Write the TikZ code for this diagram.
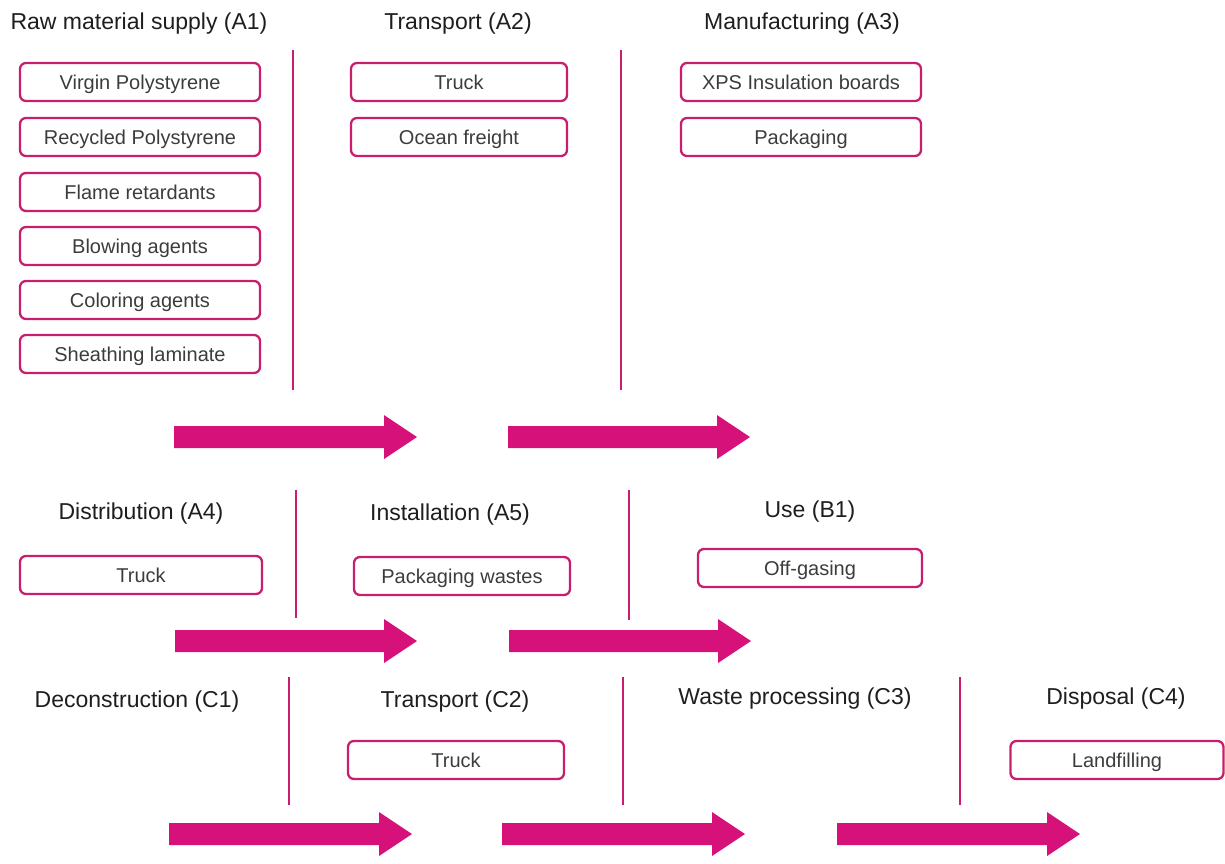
\documentclass[tikz,border=0pt]{standalone}
\usepackage{fontspec}
\setmainfont{Liberation Sans}
\definecolor{mag}{RGB}{214,18,122}
\definecolor{boxedge}{RGB}{200,30,110}
\definecolor{hdr}{RGB}{30,30,30}
\definecolor{btxt}{RGB}{60,60,60}
\begin{document}
\begin{tikzpicture}[x=1pt,y=-1pt,
  hdrnode/.style={text=hdr,font=\fontsize{23}{27}\selectfont,inner sep=0pt,anchor=center,
     text height=16.5pt,text depth=0pt},
  itembox/.style={draw=boxedge,line width=2.3pt,rounded corners=6pt,minimum height=38pt,
     text=btxt,font=\fontsize{20}{24}\selectfont,inner sep=0pt,anchor=center,
     text height=14.3pt,text depth=0pt},
  sepline/.style={draw=boxedge,line width=2pt}]
\useasboundingbox (0,0) rectangle (1225,863);
\newcommand\fatarr[3]{% x1 x2 y
  \fill[mag] (#1,#3-11) -- (#2-33,#3-11) -- (#2-33,#3-22) -- (#2,#3) -- (#2-33,#3+22) -- (#2-33,#3+11) -- (#1,#3+11) -- cycle;}
% Row 1 headers
\node[hdrnode] (hA1) at (139,21) {Raw material supply (A1)};
\node[hdrnode] (hA2) at (458,21) {Transport (A2)};
\node[hdrnode] (hA3) at (802,21) {Manufacturing (A3)};
% separators row 1
\coordinate (s1t) at (293,50); \coordinate (s1b) at (293,390);
\coordinate (s2t) at (621,50); \coordinate (s2b) at (621,390);
\draw[sepline] (s1t) -- (s1b);
\draw[sepline] (s2t) -- (s2b);
% A1 boxes
\node[itembox,minimum width=240pt] (b11) at (140,82) {Virgin Polystyrene};
\node[itembox,minimum width=240pt] (b12) at (140,137) {Recycled Polystyrene};
\node[itembox,minimum width=240pt] (b13) at (140,192) {Flame retardants};
\node[itembox,minimum width=240pt] (b14) at (140,246) {Blowing agents};
\node[itembox,minimum width=240pt] (b15) at (140,300) {Coloring agents};
\node[itembox,minimum width=240pt] (b16) at (140,354) {Sheathing laminate};
% A2 boxes
\node[itembox,minimum width=216pt] (b21) at (459,82) {Truck};
\node[itembox,minimum width=216pt] (b22) at (459,137) {Ocean freight};
% A3 boxes
\node[itembox,minimum width=240pt] (b31) at (801,82) {XPS Insulation boards};
\node[itembox,minimum width=240pt] (b32) at (801,137) {Packaging};
% Row 1 arrows
\fatarr{174}{417}{437}
\fatarr{508}{750}{437}
% Row 2
\node[hdrnode] (hA4) at (141,511) {Distribution (A4)};
\node[hdrnode] (hA5) at (450,512) {Installation (A5)};
\node[hdrnode] (hB1) at (810,509) {Use (B1)};
\coordinate (s3t) at (296,490); \coordinate (s3b) at (296,618);
\coordinate (s4t) at (629,490); \coordinate (s4b) at (629,620);
\draw[sepline] (s3t) -- (s3b);
\draw[sepline] (s4t) -- (s4b);
\node[itembox,minimum width=242pt] (b41) at (141,575) {Truck};
\node[itembox,minimum width=216pt] (b51) at (462,576) {Packaging wastes};
\node[itembox,minimum width=224pt] (b61) at (810,568) {Off-gasing};
\fatarr{175}{417}{641}
\fatarr{509}{751}{641}
% Row 3
\node[hdrnode] (hC1) at (137,699) {Deconstruction (C1)};
\node[hdrnode] (hC2) at (455,699) {Transport (C2)};
\node[hdrnode] (hC3) at (795,696) {Waste processing (C3)};
\node[hdrnode] (hC4) at (1116,696) {Disposal (C4)};
\coordinate (s5t) at (289,677); \coordinate (s5b) at (289,805);
\coordinate (s6t) at (623,677); \coordinate (s6b) at (623,805);
\coordinate (s7t) at (960,677); \coordinate (s7b) at (960,805);
\draw[sepline] (s5t) -- (s5b);
\draw[sepline] (s6t) -- (s6b);
\draw[sepline] (s7t) -- (s7b);
\node[itembox,minimum width=216pt] (b71) at (456,760) {Truck};
\node[itembox,minimum width=213pt] (b81) at (1117,760) {Landfilling};
\fatarr{169}{412}{834}
\fatarr{502}{745}{834}
\fatarr{837}{1080}{834}
\end{tikzpicture}
\end{document}
